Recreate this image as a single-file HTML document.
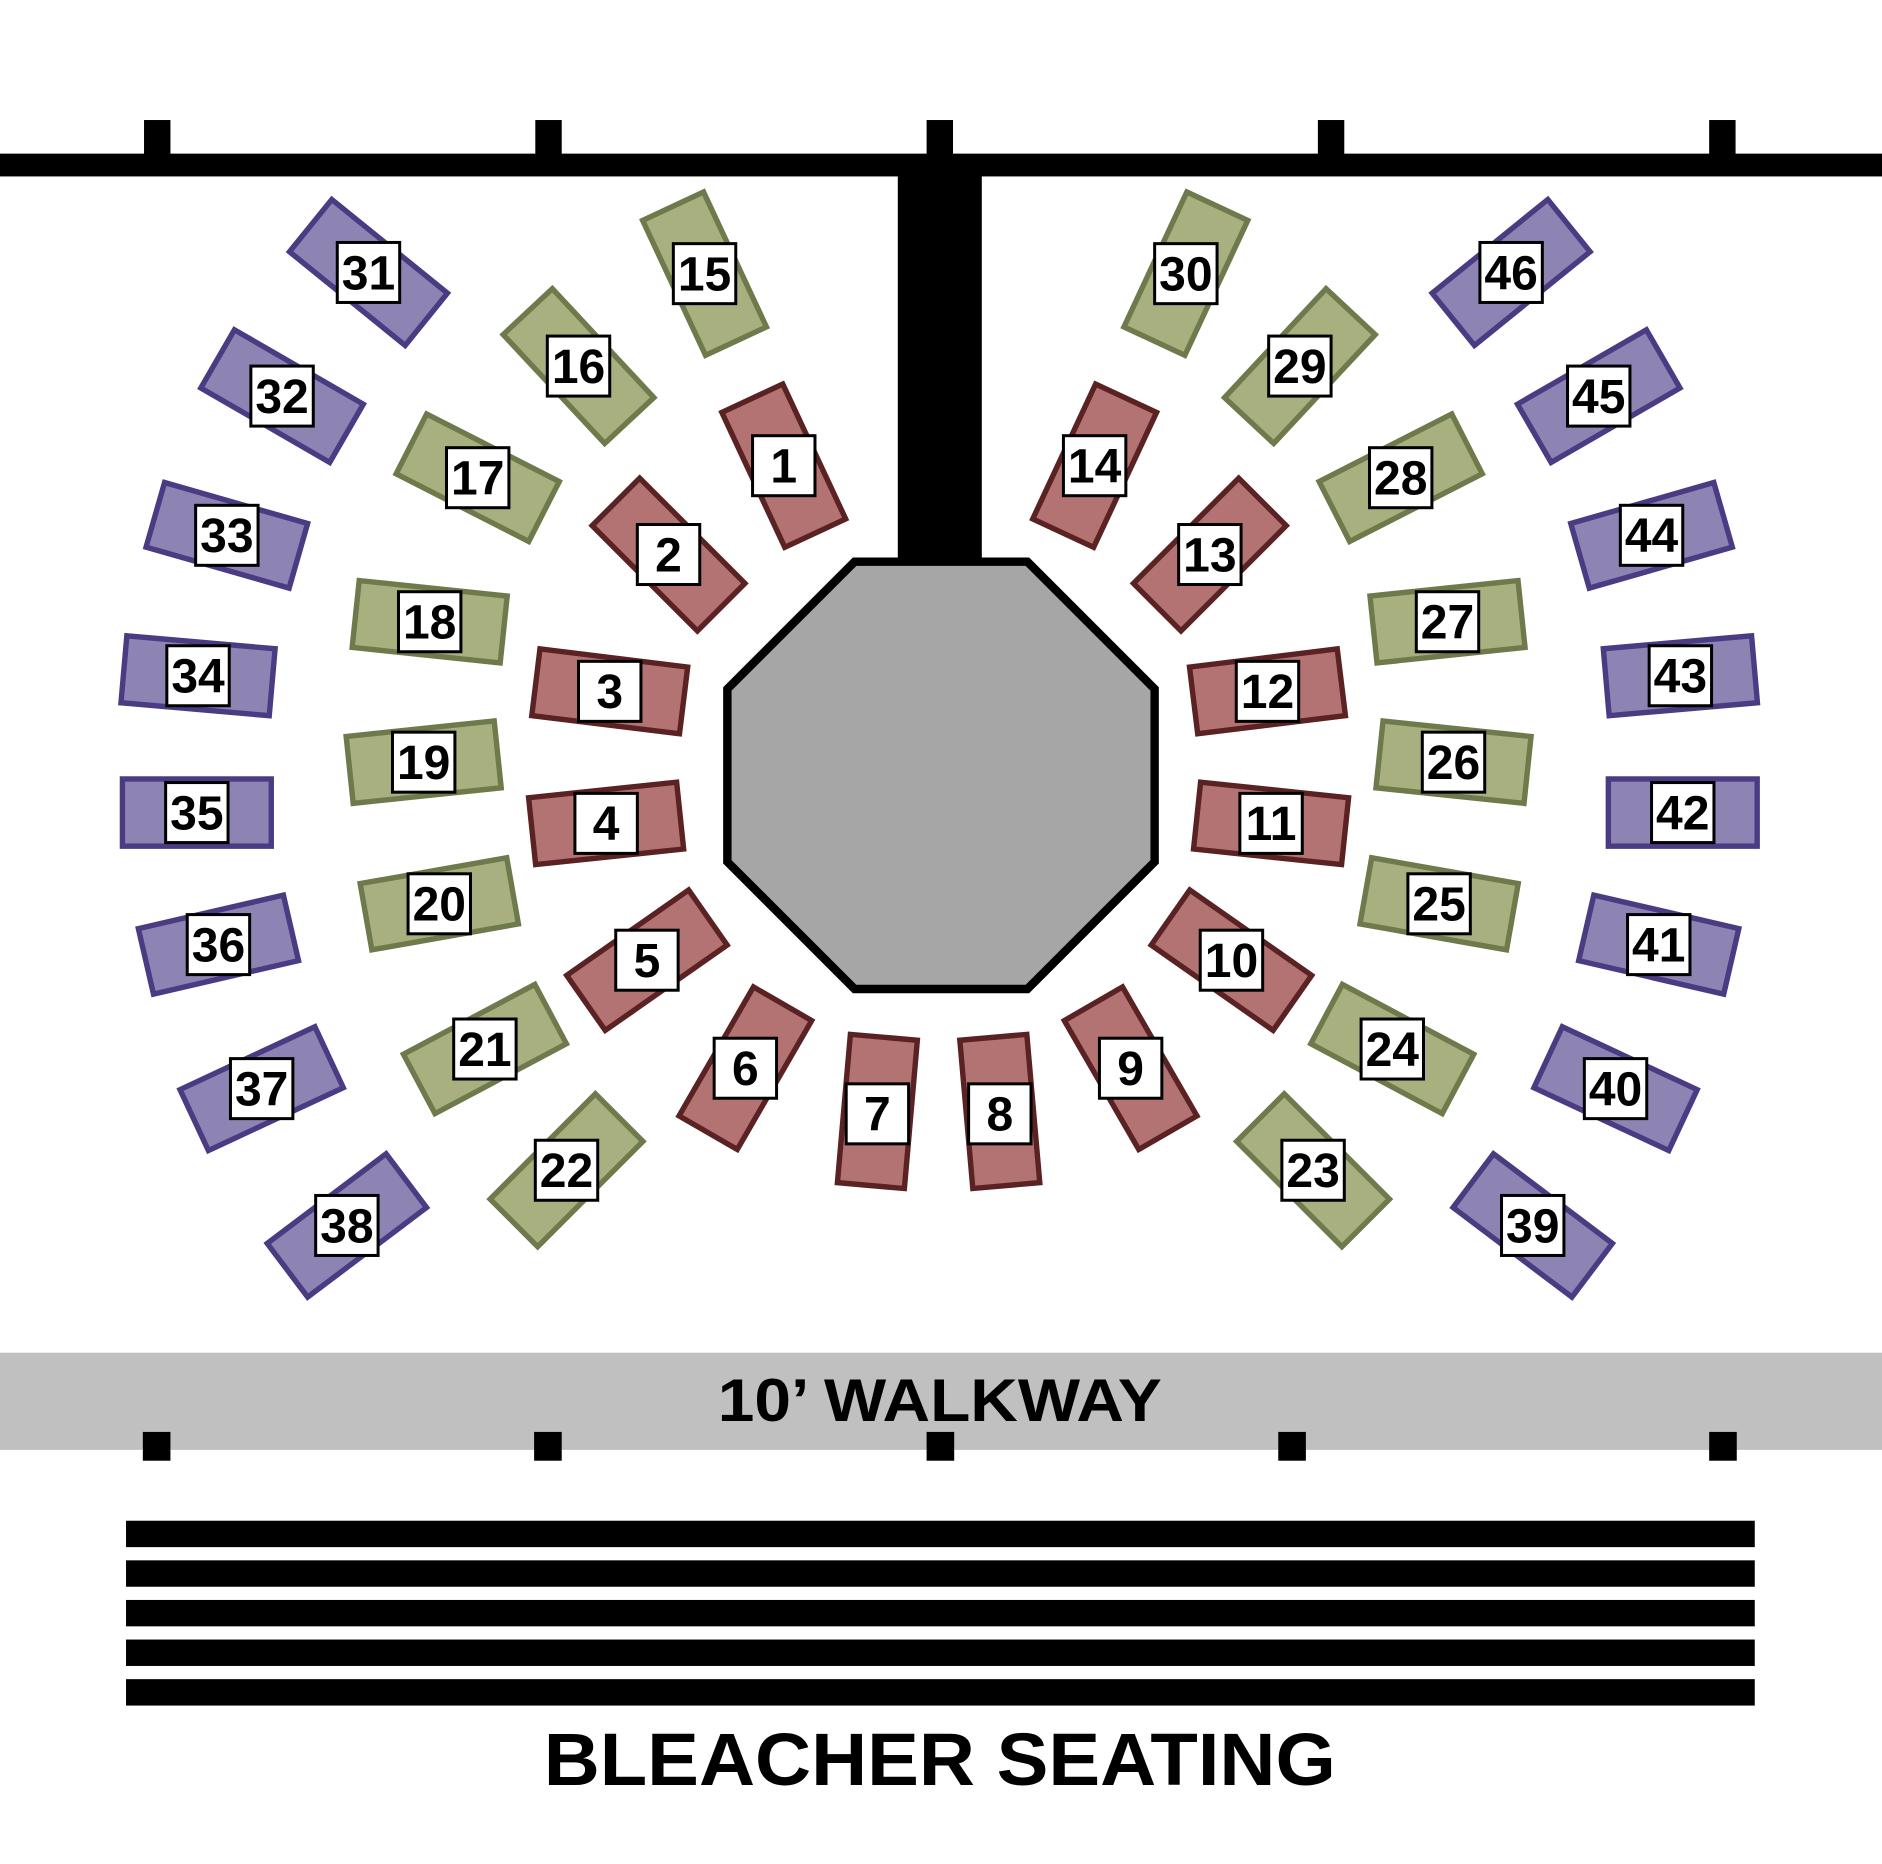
<!DOCTYPE html>
<html><head><style>html,body{margin:0;padding:0;background:#fff}svg{display:block}</style></head><body>
<svg width="1882" height="1864" viewBox="0 0 1568 1553" preserveAspectRatio="none" xmlns="http://www.w3.org/2000/svg" font-family="Liberation Sans, sans-serif" font-weight="bold">
<defs>
<rect id="tb" x="-62" y="-28" width="124" height="56"/>
</defs>
<rect x="0" y="128" width="1568" height="19" fill="#000"/>
<g fill="#000">
<rect x="120" y="100" width="22" height="30"/><rect x="446" y="100" width="22" height="30"/><rect x="772" y="100" width="22" height="30"/><rect x="1098" y="100" width="22" height="30"/><rect x="1424" y="100" width="22" height="30"/>
<rect x="748" y="140" width="70" height="332"/>
</g>
<polygon points="712,468 856,468 962,574 962,718 856,824 712,824 606,718 606,574" fill="#a6a6a6" stroke="#000" stroke-width="7" stroke-linejoin="miter"/>
<g stroke-width="4.5">
<g fill="#b37373" stroke="#5a2222">
<use href="#tb" transform="translate(653,388) rotate(65)"/>
<use href="#tb" transform="translate(557,462) rotate(45)"/>
<use href="#tb" transform="translate(508,576) rotate(7)"/>
<use href="#tb" transform="translate(505,686) rotate(-6)"/>
<use href="#tb" transform="translate(539,800) rotate(-35)"/>
<use href="#tb" transform="translate(621,890) rotate(-60)"/>
<use href="#tb" transform="translate(731,926) rotate(-85)"/>
<use href="#tb" transform="translate(833,926) rotate(85)"/>
<use href="#tb" transform="translate(942,890) rotate(60)"/>
<use href="#tb" transform="translate(1026,800) rotate(35)"/>
<use href="#tb" transform="translate(1059,686) rotate(6)"/>
<use href="#tb" transform="translate(1056,576) rotate(-7)"/>
<use href="#tb" transform="translate(1008,462) rotate(-45)"/>
<use href="#tb" transform="translate(912,388) rotate(-65)"/>
</g>
<g fill="#a9b07f" stroke="#6e7a4c">
<use href="#tb" transform="translate(587,228) rotate(65)"/>
<use href="#tb" transform="translate(482,305) rotate(47)"/>
<use href="#tb" transform="translate(398,398) rotate(27)"/>
<use href="#tb" transform="translate(358,518) rotate(6)"/>
<use href="#tb" transform="translate(353,635) rotate(-6)"/>
<use href="#tb" transform="translate(366,753) rotate(-10)"/>
<use href="#tb" transform="translate(404,874) rotate(-28)"/>
<use href="#tb" transform="translate(472,975) rotate(-45)"/>
<use href="#tb" transform="translate(1094,975) rotate(45)"/>
<use href="#tb" transform="translate(1160,874) rotate(28)"/>
<use href="#tb" transform="translate(1199,753) rotate(10)"/>
<use href="#tb" transform="translate(1211,635) rotate(6)"/>
<use href="#tb" transform="translate(1206,518) rotate(-6)"/>
<use href="#tb" transform="translate(1167,398) rotate(-27)"/>
<use href="#tb" transform="translate(1083,305) rotate(-47)"/>
<use href="#tb" transform="translate(988,228) rotate(-65)"/>
</g>
<g fill="#8d84b3" stroke="#4a3b82">
<use href="#tb" transform="translate(307,227) rotate(39)"/>
<use href="#tb" transform="translate(235,330) rotate(30)"/>
<use href="#tb" transform="translate(189,446) rotate(16)"/>
<use href="#tb" transform="translate(165,563) rotate(5)"/>
<use href="#tb" transform="translate(164,677) rotate(0)"/>
<use href="#tb" transform="translate(182,787) rotate(-13)"/>
<use href="#tb" transform="translate(218,907) rotate(-25)"/>
<use href="#tb" transform="translate(289,1021) rotate(-37)"/>
<use href="#tb" transform="translate(1277,1021) rotate(37)"/>
<use href="#tb" transform="translate(1346,907) rotate(25)"/>
<use href="#tb" transform="translate(1382,787) rotate(13)"/>
<use href="#tb" transform="translate(1402,677) rotate(0)"/>
<use href="#tb" transform="translate(1400,563) rotate(-5)"/>
<use href="#tb" transform="translate(1376,446) rotate(-16)"/>
<use href="#tb" transform="translate(1332,330) rotate(-30)"/>
<use href="#tb" transform="translate(1259,227) rotate(-39)"/>
</g>
</g>
<g id="labels" font-size="40" text-anchor="middle">
<g fill="#fff" stroke="#000" stroke-width="2.5">
<rect x="627" y="363" width="52" height="50"/><rect x="531" y="437" width="52" height="50"/><rect x="482" y="551" width="52" height="50"/><rect x="479" y="661" width="52" height="50"/><rect x="513" y="775" width="52" height="50"/><rect x="595" y="865" width="52" height="50"/><rect x="705" y="903" width="52" height="50"/><rect x="807" y="903" width="52" height="50"/><rect x="916" y="865" width="52" height="50"/><rect x="1000" y="775" width="52" height="50"/><rect x="1033" y="661" width="52" height="50"/><rect x="1030" y="551" width="52" height="50"/><rect x="982" y="437" width="52" height="50"/><rect x="886" y="363" width="52" height="50"/>
<rect x="561" y="203" width="52" height="50"/><rect x="456" y="280" width="52" height="50"/><rect x="372" y="373" width="52" height="50"/><rect x="332" y="493" width="52" height="50"/><rect x="327" y="610" width="52" height="50"/><rect x="340" y="728" width="52" height="50"/><rect x="378" y="849" width="52" height="50"/><rect x="446" y="950" width="52" height="50"/><rect x="1068" y="950" width="52" height="50"/><rect x="1134" y="849" width="52" height="50"/><rect x="1173" y="728" width="52" height="50"/><rect x="1185" y="610" width="52" height="50"/><rect x="1180" y="493" width="52" height="50"/><rect x="1141" y="373" width="52" height="50"/><rect x="1057" y="280" width="52" height="50"/><rect x="962" y="203" width="52" height="50"/>
<rect x="281" y="202" width="52" height="50"/><rect x="209" y="305" width="52" height="50"/><rect x="163" y="421" width="52" height="50"/><rect x="139" y="538" width="52" height="50"/><rect x="138" y="652" width="52" height="50"/><rect x="156" y="762" width="52" height="50"/><rect x="192" y="882" width="52" height="50"/><rect x="263" y="996" width="52" height="50"/><rect x="1251" y="996" width="52" height="50"/><rect x="1320" y="882" width="52" height="50"/><rect x="1356" y="762" width="52" height="50"/><rect x="1376" y="652" width="52" height="50"/><rect x="1374" y="538" width="52" height="50"/><rect x="1350" y="421" width="52" height="50"/><rect x="1306" y="305" width="52" height="50"/><rect x="1233" y="202" width="52" height="50"/>
</g>
<g fill="#000">
<text x="653" y="402">1</text><text x="557" y="476">2</text><text x="508" y="590">3</text><text x="505" y="700">4</text><text x="539" y="814">5</text><text x="621" y="904">6</text><text x="731" y="942">7</text><text x="833" y="942">8</text><text x="942" y="904">9</text><text x="1026" y="814">10</text><text x="1059" y="700">11</text><text x="1056" y="590">12</text><text x="1008" y="476">13</text><text x="912" y="402">14</text>
<text x="587" y="242">15</text><text x="482" y="319">16</text><text x="398" y="412">17</text><text x="358" y="532">18</text><text x="353" y="649">19</text><text x="366" y="767">20</text><text x="404" y="888">21</text><text x="472" y="989">22</text><text x="1094" y="989">23</text><text x="1160" y="888">24</text><text x="1199" y="767">25</text><text x="1211" y="649">26</text><text x="1206" y="532">27</text><text x="1167" y="412">28</text><text x="1083" y="319">29</text><text x="988" y="242">30</text>
<text x="307" y="241">31</text><text x="235" y="344">32</text><text x="189" y="460">33</text><text x="165" y="577">34</text><text x="164" y="691">35</text><text x="182" y="801">36</text><text x="218" y="921">37</text><text x="289" y="1035">38</text><text x="1277" y="1035">39</text><text x="1346" y="921">40</text><text x="1382" y="801">41</text><text x="1402" y="691">42</text><text x="1400" y="577">43</text><text x="1376" y="460">44</text><text x="1332" y="344">45</text><text x="1259" y="241">46</text>
</g>
</g>
<rect x="0" y="1127" width="1568" height="81" fill="#c0c0c0"/>
<text x="598" y="1184" font-size="50" textLength="370" lengthAdjust="spacingAndGlyphs" fill="#000">10’ WALKWAY</text>
<g fill="#000">
<rect x="119" y="1193" width="23" height="24"/><rect x="445" y="1193" width="23" height="24"/><rect x="772" y="1193" width="23" height="24"/><rect x="1065" y="1193" width="23" height="24"/><rect x="1424" y="1193" width="23" height="24"/>
<rect x="105" y="1267" width="1357" height="22"/><rect x="105" y="1300" width="1357" height="22"/><rect x="105" y="1333" width="1357" height="22"/><rect x="105" y="1366" width="1357" height="22"/><rect x="105" y="1399" width="1357" height="22"/>
</g>
<text x="453" y="1487" font-size="62" textLength="660" lengthAdjust="spacingAndGlyphs" fill="#000">BLEACHER SEATING</text>
</svg>
</body></html>
